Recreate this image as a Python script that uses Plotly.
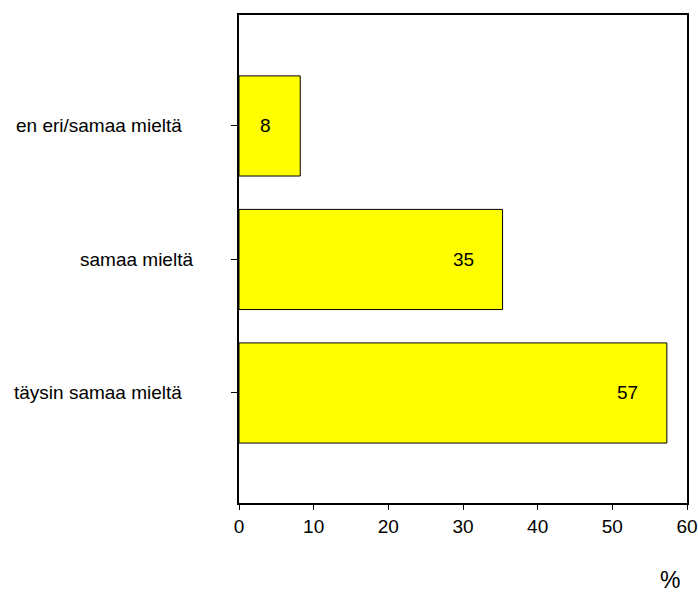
import plotly.graph_objects as go

categories = ["täysin samaa mieltä", "samaa mieltä", "en eri/samaa mieltä"]
values = [57.3, 35.3, 8.2]
value_labels = ["57", "35", "8"]
x_ticks = [0, 10, 20, 30, 40, 50, 60]
label_shift = [-55, -44, -55]

FONT = "Liberation Sans, Arial, sans-serif"

fig = go.Figure()
fig.add_trace(go.Bar(
    y=categories, x=values, orientation="h",
    width=0.75,
    marker=dict(color="#FFFF00", line=dict(color="black", width=1)),
    hoverinfo="skip",
))

annotations = []
for cat, v, lab in zip(categories, values, value_labels):
    annotations.append(dict(x=v, y=cat, xref="x", yref="y", text=lab,
                            showarrow=False, xanchor="right", xshift=-27,
                            font=dict(family=FONT, size=19, color="black")))
for cat, sh in zip(categories, label_shift):
    annotations.append(dict(x=0, y=cat, xref="x", yref="y", text=cat,
                            showarrow=False, xanchor="right", xshift=sh,
                            font=dict(family=FONT, size=19, color="black")))
annotations.append(dict(x=(670 - 239) / (687 - 239), y=-(580 - 503) / (503 - 15),
                        xref="paper", yref="paper", text="%",
                        showarrow=False, xanchor="center", yanchor="middle",
                        font=dict(family=FONT, size=23, color="black")))

fig.update_layout(
    width=698, height=594,
    margin=dict(l=239, r=11, t=15, b=91, autoexpand=False),
    paper_bgcolor="white", plot_bgcolor="white",
    showlegend=False,
    annotations=annotations,
    font=dict(family=FONT, size=19, color="black"),
    xaxis=dict(range=[0, 60], tickvals=x_ticks, ticks="outside", ticklen=5,
               tickcolor="black", showline=True, linecolor="black", linewidth=2,
               mirror=True, showgrid=False, zeroline=False, automargin=False,
               tickfont=dict(family=FONT, size=19, color="black")),
    yaxis=dict(range=[-0.824, 2.831], categoryorder="array", categoryarray=categories,
               ticks="outside", ticklen=6, tickcolor="black", showticklabels=False,
               showline=True, linecolor="black", linewidth=2, mirror=True,
               showgrid=False, zeroline=False, automargin=False),
)

fig.write_html("out.html")
